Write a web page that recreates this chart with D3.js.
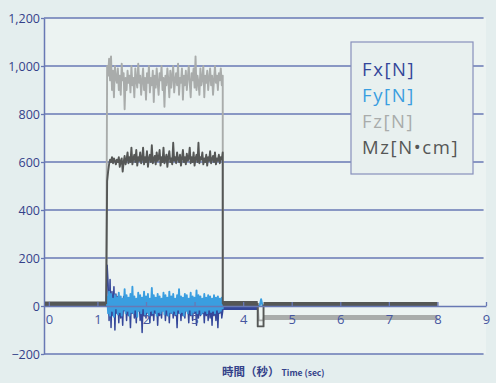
<!DOCTYPE html>
<html>
<head>
<meta charset="utf-8">
<script src="https://cdn.jsdelivr.net/npm/d3@7"></script>
<style>
  body { margin: 0; background: #e4eeee; }
  svg { display: block; }
</style>
</head>
<body>
<div class="js-chart"></div>
<script>
var sampleStart = 1.2;
var sampleStep = 0.02;
var riseTime = 1.18;
var fallTime = 3.58;

var fzActive = [
  1000, 960, 1030, 940, 1040, 900, 980, 870, 1000, 950,
  930, 990, 900, 960, 880, 1010, 940, 970, 820, 950,
  900, 980, 930, 960, 890, 1000, 920, 950, 870, 990,
  940, 910, 1010, 930, 960, 880, 940, 990, 900, 950,
  860, 970, 930, 1000, 890, 950, 920, 980, 850, 960,
  910, 990, 930, 880, 970, 940, 1000, 900, 950, 830,
  960, 920, 990, 940, 870, 980, 910, 960, 1000, 890,
  940, 970, 920, 1010, 880, 950, 930, 990, 860, 960,
  920, 980, 900, 950, 1000, 930, 870, 970, 940, 990,
  910, 1040, 900, 960, 930, 880, 990, 920, 950, 1000,
  870, 960, 930, 980, 900, 950, 990, 920, 960, 880,
  940, 1000, 930, 960, 900, 970, 940, 990, 920, 960
];
var mzActive = [
  520, 560, 590, 610, 600, 620, 595, 615, 605, 590,
  610, 600, 620, 580, 605, 615, 560, 600, 625, 590,
  610, 640, 595, 620, 600, 660, 590, 615, 630, 600,
  650, 585, 620, 605, 640, 595, 610, 660, 590, 620,
  600, 645, 580, 615, 630, 600, 670, 595, 610, 625,
  590, 640, 605, 615, 650, 585, 620, 600, 660, 595,
  610, 630, 580, 620, 645, 600, 615, 590, 680, 605,
  620, 595, 640, 610, 600, 630, 585, 615, 650, 600,
  620, 590, 635, 605, 615, 660, 595, 620, 600, 640,
  585, 615, 630, 600, 680, 595, 620, 610, 640, 590,
  615, 600, 630, 585, 620, 605, 645, 595, 610, 625,
  600, 640, 590, 615, 605, 630, 595, 620, 610, 640
];
var fxActive = [
  170, 90, -60, 110, -90, 60, -40, 80, -100, 50,
  -30, 40, -70, 30, -50, 20, -80, 40, -20, 30,
  -60, 20, -40, 10, -90, 30, -30, 20, -50, 10,
  -70, 25, -20, 15, -60, 30, -110, 20, -40, 10,
  -50, 25, -30, 15, -70, 20, -40, 10, -60, 30,
  -30, 15, -80, 20, -40, 10, -50, 25, -20, 15,
  -60, 20, -40, 10, -70, 30, -30, 15, -50, 20,
  -40, 10, -90, 25, -30, 15, -60, 20, -40, 10,
  -50, 30, -20, 15, -70, 20, -40, 10, -60, 25,
  -30, 15, -80, 20, -50, 10, -40, 25, -30, 15,
  -70, 20, -40, 10, -60, 30, -50, 15, -80, 20,
  -40, 10, -60, 25, -90, 15, -30, 20, -50, -20
];
var fyActive = [
  40, -30, 60, -40, 50, -20, 30, -45, 45, -10,
  35, -35, 55, -25, 40, -40, 30, -15, 70, -30,
  45, -20, 35, -40, 50, -25, 80, -30, 40, -15,
  30, -45, 55, -20, 45, -30, 35, -10, 60, -35,
  40, -25, 50, -40, 30, -20, 75, -30, 45, -15,
  35, -40, 50, -25, 40, -30, 30, -20, 55, -35,
  45, -15, 35, -40, 60, -25, 40, -30, 50, -20,
  30, -35, 45, -15, 70, -30, 40, -25, 35, -40,
  50, -20, 45, -30, 30, -15, 55, -35, 40, -25,
  35, -20, 65, -30, 45, -15, 40, -35, 30, -25,
  50, -20, 35, -30, 45, -15, 40, -25, 30, -20,
  45, -30, 35, -15, 40, -25, 30, -20, 35, -10
];

// quiet stretches drawn as thin noise bands: [series, from, to, level]
var quietBands = [
  ['Fx', 3.58, 4.3, -6],
  ['Mz', -0.08, 1.18, 8],
  ['Mz', 3.58, 4.3, 10],
  ['Fz', 4.42, 8.0, -48],
  ['Mz', 4.42, 8.0, 6]
];
// unloading step around 4.3 s: [time, value]
var fzDip = [[4.3, 0], [4.32, -60], [4.42, -60], [4.42, -48]];
var mzDip = [[4.3, 10], [4.3, -85], [4.42, -85], [4.42, 6]];
var fySpike = [[4.34, 0], [4.37, 28], [4.4, 0]];

var seriesNames = ['Fx', 'Fy', 'Fz', 'Mz'];
var legendLabels = ['Fx[N]', 'Fy[N]', 'Fz[N]', 'Mz[N\u2022cm]'];
var seriesColors = { Fx: '#34479a', Fy: '#3a9ee0', Fz: '#a9acab', Mz: '#555756' };

var yTicks = [-200, 0, 200, 400, 600, 800, 1000, 1200];
var xTicks = [0, 1, 2, 3, 4, 5, 6, 7, 8, 9];

var width = 496;
var height = 383;
var gridColor = '#6878b4';
var labelColor = '#34428a';

var x = d3.scaleLinear().domain([-0.1, 9]).range([44, 486]);
var y = d3.scaleLinear().domain([-200, 1200]).range([354, 18]);

var svg = d3.select('.js-chart').append('svg')
  .attr('width', width)
  .attr('height', height);

svg.append('rect')
  .attr('width', width).attr('height', height)
  .attr('fill', '#e4eeee');
svg.append('rect')
  .attr('x', x.range()[0]).attr('y', y(1200))
  .attr('width', x.range()[1] - x.range()[0]).attr('height', y(-200) - y(1200))
  .attr('fill', '#ecf3f2');

// horizontal grid + y labels
var yAxis = svg.append('g')
  .attr('transform', `translate(${x.range()[0]},0)`)
  .call(d3.axisLeft(y).tickValues(yTicks).tickFormat(d3.format(',')).tickSize(3).tickSizeOuter(0));
yAxis.select('.domain').attr('stroke', gridColor).attr('stroke-width', 1.5);
yAxis.selectAll('.tick line').attr('stroke', gridColor).attr('stroke-width', 1.3);
yAxis.selectAll('.tick text')
  .attr('fill', labelColor)
  .attr('x', -4)
  .style('font-family', 'Open Sans, sans-serif')
  .style('font-size', '12.5px');

svg.append('g').selectAll('line')
  .data(yTicks.filter((d) => d !== 0))
  .enter().append('line')
  .attr('x1', x.range()[0]).attr('x2', x(8.95))
  .attr('y1', (d) => y(d)).attr('y2', (d) => y(d))
  .attr('stroke', gridColor).attr('stroke-width', 1.3);

// data lines
var line = d3.line().x((d) => x(d[0])).y((d) => y(d[1]));
function activePoints(values) {
  return values.map((v, i) => [sampleStart + i * sampleStep, v]);
}
var paths = {
  Fz: [[riseTime, 0]].concat(activePoints(fzActive), [[fallTime, 0]], fzDip),
  Fx: [[riseTime, 0]].concat(activePoints(fxActive), [[fallTime, -6]]),
  Fy: [[riseTime, 0]].concat(activePoints(fyActive), [[fallTime, 0]], [[4.3, 0]], fySpike),
  Mz: [[riseTime, 8]].concat(activePoints(mzActive), [[fallTime, 10]], mzDip)
};
var drawOrder = ['Fz', 'Fx', 'Fy', 'Mz'];

var plot = svg.append('g');

drawOrder.forEach(function (key) {
  quietBands.filter((b) => b[0] === key).forEach(function (b) {
    plot.append('line')
      .attr('x1', x(b[1])).attr('x2', x(b[2]))
      .attr('y1', y(b[3])).attr('y2', y(b[3]))
      .attr('stroke', seriesColors[key])
      .attr('stroke-width', 5);
  });
  plot.append('path')
    .datum(paths[key])
    .attr('d', line)
    .attr('fill', 'none')
    .attr('stroke', seriesColors[key])
    .attr('stroke-width', key === 'Fx' ? 1.5 : 1.9)
    .attr('stroke-linejoin', 'round');
});

// x axis along zero
var xAxis = svg.append('g')
  .attr('transform', `translate(0,${y(0)})`)
  .call(d3.axisBottom(x).tickValues(xTicks).tickSizeInner(-4).tickSizeOuter(0).tickPadding(9));
xAxis.select('.domain').attr('stroke', gridColor).attr('stroke-width', 1.5);
xAxis.selectAll('.tick line').attr('stroke', gridColor).attr('stroke-width', 1.3);
xAxis.selectAll('.tick text')
  .attr('fill', '#4656a0')
  .style('font-family', 'Open Sans, sans-serif')
  .style('font-size', '13px');

// axis title
var title = svg.append('text')
  .attr('x', 222).attr('y', 376)
  .attr('fill', labelColor)
  .style('font-family', 'Noto Sans CJK JP, sans-serif');
title.append('tspan').style('font-size', '11.5px').style('font-weight', 'bold').text('時間（秒）');
title.append('tspan').attr('dx', 2).style('font-size', '8.5px').style('font-weight', 'bold').text('Time (sec)');

// legend
var legend = svg.append('g').attr('transform', 'translate(351,42)');
legend.append('rect')
  .attr('width', 122).attr('height', 132)
  .attr('fill', '#e8f0ef')
  .attr('stroke', '#8790bb').attr('stroke-width', 1.2);
legend.selectAll('text')
  .data(seriesNames)
  .enter().append('text')
  .attr('x', 11)
  .attr('y', (d, i) => 34 + i * 26)
  .attr('fill', (d) => seriesColors[d])
  .style('font-family', 'Open Sans, sans-serif')
  .style('font-size', '18.5px')
  .style('letter-spacing', '1.6px')
  .text((d, i) => legendLabels[i]);
</script>
</body>
</html>
